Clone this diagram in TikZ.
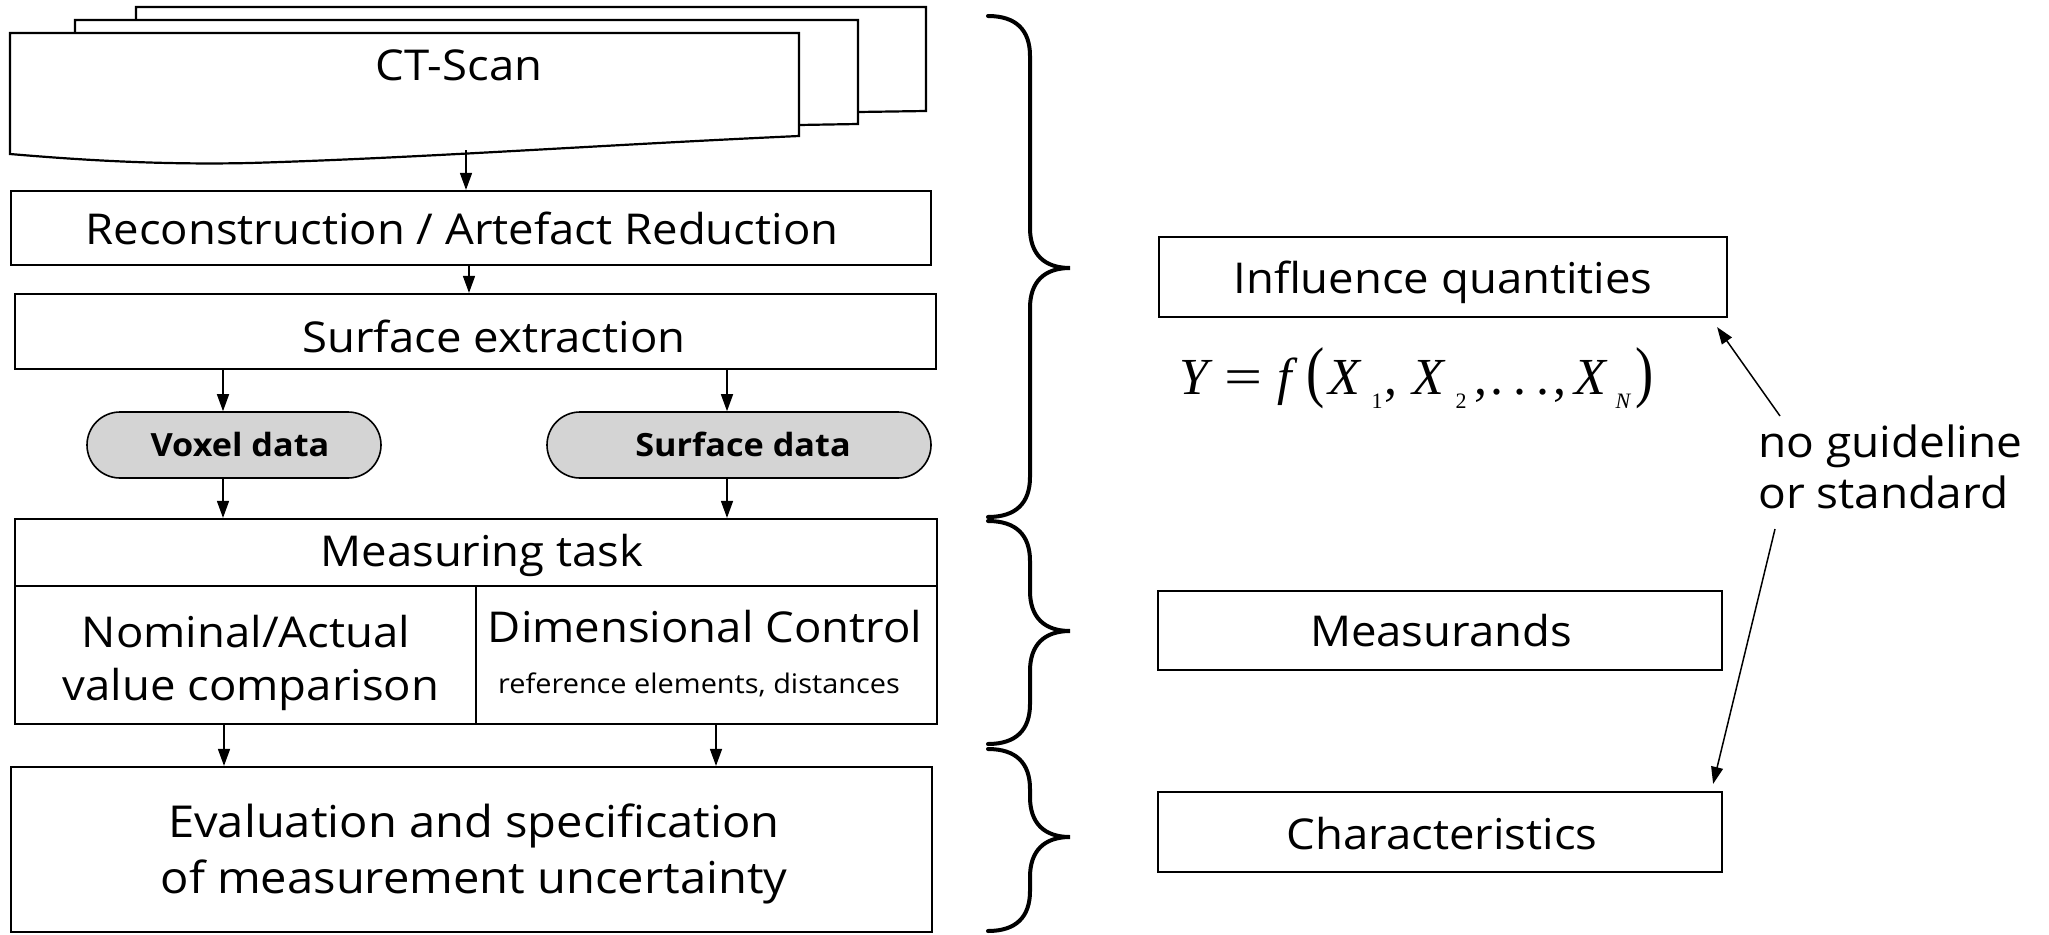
\documentclass[tikz,border=0pt]{standalone}
\usepackage{fontspec}
\setmainfont{Open Sans}[FakeStretch=1.07]
\newfontfamily\fmf{Liberation Serif}
\usepackage{graphicx}
\usetikzlibrary{arrows.meta}
\newcommand\mainfs{\fontsize{42.5}{54}\selectfont}
\newcommand\smallfs{\fontsize{27}{30}\selectfont}
\newcommand\gl[2]{\makebox[0pt][l]{\hspace{#1pt}#2}}
\newcommand\bracepath[3]{%
  \draw[bracestyle] (988,#1) .. controls (1016,#1) and (1030,{#1+14}) .. (1030,{#1+40})
    -- (1030,{#2-40}) .. controls (1030,{#2-14}) and (1044,#2) .. (1070,#2)
    .. controls (1044,#2) and (1030,{#2+14}) .. (1030,{#2+40})
    -- (1030,{#3-40}) .. controls (1030,{#3-14}) and (1016,#3) .. (988,#3);}
\begin{document}
\begin{tikzpicture}[x=1pt,y=-1pt,
  box/.style={draw, line width=2.2pt, inner sep=0pt},
  shp/.style={draw, line width=2.2pt, line join=miter},
  pill/.style={draw, line width=1.6pt, fill=black!17, rounded corners=33pt, inner sep=0pt, minimum height=66pt},
  pilltxt/.style={anchor=base, inner sep=0pt, font=\fontsize{32}{34}\selectfont\bfseries},
  arr/.style={line width=1.5pt, -{Triangle[length=17pt,width=12pt]}},
  bracestyle/.style={line width=4pt, line cap=round},
  txt/.style={anchor=base, inner sep=0pt, font=\mainfs}]
\useasboundingbox (0,0) rectangle (2049,934);

% CT-Scan stack
\draw[shp, fill=white] (136,20) -- (136,7) -- (926,7) -- (926,111) -- (858,112);
\draw[shp, fill=white] (75,33) -- (75,20) -- (858,20) -- (858,124) -- (799,125);
\draw[shp, fill=white] (10,33) -- (799,33) -- (799,136)
  .. controls (600,145) and (420,158) .. (250,163)
  .. controls (160,165) and (80,160) .. (10,154) -- cycle;
\node[txt] (ct) at (459,80) {CT-Scan};
\coordinate (ctb) at (466,150);

\node[box, minimum width=920pt, minimum height=74pt] (recon) at (471,228) {};
\node[txt] (recontxt) at (462,244) {Reconstruction / Artefact Reduction};
\node[box, minimum width=921pt, minimum height=75pt] (surf) at (475.5,331.5) {};
\node[txt] (surftxt) at (494,352) {Surface extraction};
\node[pill, minimum width=294pt] (vox) at (234,445) {};
\node[pilltxt] (voxtxt) at (240,456) {Voxel data};
\node[pill, minimum width=384pt] (sdat) at (739,445) {};
\node[pilltxt] (sdattxt) at (743,456) {Surface data};

% Measuring task
\node[box, minimum width=922pt, minimum height=67pt] (mt) at (476,552.5) {};
\node[txt] (mttxt) at (482,566) {Measuring task};
\node[box, minimum width=461pt, minimum height=138pt] (na) at (245.5,655) {};
\node[box, minimum width=461pt, minimum height=138pt] (dc) at (706.5,655) {};
\node[txt] (na1) at (246,647) {Nominal/Actual};
\node[txt] (na2) at (251,700) {value comparison};
\node[txt] (dc1) at (705,642) {Dimensional Control};
\node[txt, font=\smallfs] (dc2) at (699,693) {reference elements, distances};

\node[box, minimum width=921pt, minimum height=165pt] (eval) at (471.5,849.5) {};
\node[txt, font=\fontsize{44}{54}\selectfont] (ev1) at (474,837) {Evaluation and specification};
\node[txt, font=\fontsize{44}{54}\selectfont] (ev2) at (474,893) {of measurement uncertainty};

% arrows left
\draw[arr] (ctb) -- (466,0 |- recon.north);
\draw[arr] (469,0 |- recon.south) -- (469,0 |- surf.north);
\draw[arr] (223,0 |- surf.south) -- (223,0 |- vox.north);
\draw[arr] (727,0 |- surf.south) -- (727,0 |- sdat.north);
\draw[arr] (223,0 |- vox.south) -- (223,0 |- mt.north);
\draw[arr] (727,0 |- sdat.south) -- (727,0 |- mt.north);
\draw[arr] (224,0 |- na.south) -- (224,0 |- eval.north);
\draw[arr] (716,0 |- dc.south) -- (716,0 |- eval.north);

% braces
\bracepath{16}{268}{517}
\bracepath{521}{631}{744}
\bracepath{749}{837}{931}

% right boxes
\node[box, minimum width=568pt, minimum height=80pt] (infl) at (1443,277) {};
\node[txt] (infltxt) at (1443,293) {Influence quantities};
\node[box, minimum width=564pt, minimum height=79pt] (meas) at (1440,630.5) {};
\node[txt] (meastxt) at (1441,646) {Measurands};
\node[box, minimum width=564pt, minimum height=80pt] (char) at (1440,832) {};
\node[txt] (chartxt) at (1442,849) {Characteristics};

% formula
\node[anchor=base west, inner sep=0pt, font=\fmf\fontsize{52}{52}\selectfont] (form) at (1179,394) {%
\gl{0}{\itshape Y}\gl{45}{\scalebox{1.3}[1]{=}}\gl{98}{\itshape f}\gl{127}{\scalebox{1.05}[1.3]{(}}%
\gl{149}{\itshape X}\gl{192}{\raisebox{-14pt}{\fontsize{22}{22}\selectfont 1}}\gl{205}{,}%
\gl{233}{\itshape X}\gl{276}{\raisebox{-14pt}{\fontsize{22}{22}\selectfont 2}}\gl{295}{,}%
\gl{311}{.}\gl{334}{.}\gl{357}{.}\gl{374}{,}%
\gl{395}{\itshape X}\gl{436}{\raisebox{-14pt}{\fontsize{22}{22}\selectfont\itshape N}}\gl{456}{\scalebox{1.05}[1.3]{)}}};

\node[anchor=base west, inner sep=0pt, font=\fontsize{43}{51}\selectfont] (ng1) at (1758,457) {no guideline};
\node[anchor=base west, inner sep=0pt, font=\fontsize{43}{51}\selectfont] (ng2) at (1758,508) {or standard};
\coordinate (a1) at (1780,416);
\coordinate (a2) at (1775,529);
\draw[arr] (a1) -- ([shift={(-11,9)}]infl.south east);
\draw[arr] (a2) -- ([shift={(-10,-7)}]char.north east);
\end{tikzpicture}
\end{document}
